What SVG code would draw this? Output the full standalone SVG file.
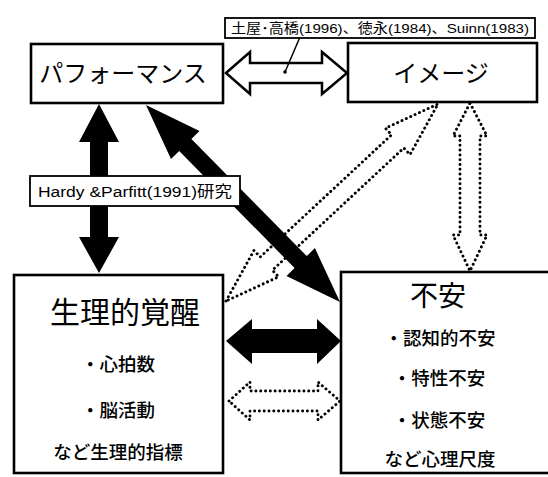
<svg xmlns="http://www.w3.org/2000/svg" width="548" height="477" viewBox="0 0 548 477">
<style>
.box{fill:#fff;stroke:#000;stroke-width:2.6}
.lbl{fill:#fff;stroke:#000;stroke-width:1.8}
.solid{fill:#000;stroke:none}
.hollow{fill:#fff;stroke:#000;stroke-width:2.5;stroke-linejoin:miter}
.dot{fill:none;stroke:#000;stroke-width:2.9;stroke-linecap:round;stroke-dasharray:0.1 4.7}
text{font-family:"Liberation Sans","Noto Sans CJK JP",sans-serif;fill:#000;text-anchor:middle}
.ti{font-size:24px}
.big{font-size:30px}
.it{font-size:18.5px;font-weight:500}
.sm{font-size:13.5px}
.md{font-size:15.5px}
</style>
<rect width="548" height="477" fill="#fff"/>
<g id="connectors">
<polygon class="dot" points="226,301 254,250.4 260.2,257 391.6,134.8 385.4,128.2 438,104 410,154.6 403.8,148 272.4,270.2 278.6,276.8"/>
<polygon class="dot" points="470,103 487,136 480,136 480,235 487,235 470,271 453,235 460,235 460,136 453,136"/>
<polygon class="dot" points="229,401 250,382 250,391 318,391 318,382 340,401 318,420 318,411 250,411 250,420"/>
<polygon class="solid" points="226,341 252,319 252,329 317,329 317,319 341,341 317,364 317,353 252,353 252,364"/>
<polygon class="solid" points="99,104 119,142 108,142 108,237 119,237 99,273 79,237 90,237 90,142 79,142"/>
<polygon class="solid" points="146,105 199.5,130.9 191.4,138.9 306.8,256.1 314.9,248.1 340,302 286.5,276.1 294.6,268.1 179.2,150.9 171,158.9"/>
<polygon class="hollow" points="226,73 250,52 250,63 322,63 322,52 347,73 322,94 322,83 250,83 250,94"/>
</g>
<g id="performance">
<rect class="box" x="31" y="44" width="192" height="59"/>
<text class="ti" x="123" y="82">パフォーマンス</text>
</g>
<g id="image">
<rect class="box" x="348" y="43" width="189" height="59"/>
<text class="ti" x="441" y="82">イメージ</text>
</g>
<g id="arousal">
<rect class="box" x="14" y="275" width="209" height="198"/>
<text class="big" x="125" y="323">生理的覚醒</text>
<text class="it" x="118" y="371">・心拍数</text>
<text class="it" x="118" y="417">・脳活動</text>
<text class="it" x="118" y="459">など生理的指標</text>
</g>
<g id="anxiety">
<rect class="box" x="341" y="272" width="220" height="201"/>
<text class="big" x="438" y="306" style="font-size:28px">不安</text>
<text class="it" x="440" y="345">・認知的不安</text>
<text class="it" x="439" y="385">・特性不安</text>
<text class="it" x="439" y="427">・状態不安</text>
<text class="it" x="440" y="466">など心理尺度</text>
</g>
<g id="label-citation">
<line x1="300" y1="37" x2="285" y2="72" stroke="#000" stroke-width="1.5"/>
<circle cx="285" cy="72" r="1.8" fill="#000"/>
<rect class="lbl" x="225" y="18" width="310" height="20"/>
<text class="sm" x="380" y="33" textLength="298" lengthAdjust="spacingAndGlyphs">土屋･高橋(1996)、徳永(1984)、Suinn(1983)</text>
</g>
<g id="label-hardy">
<rect class="lbl" x="30" y="176" width="210" height="30"/>
<text class="md" x="135" y="197" textLength="194" lengthAdjust="spacingAndGlyphs">Hardy &amp;Parfitt(1991)研究</text>
</g>
</svg>
